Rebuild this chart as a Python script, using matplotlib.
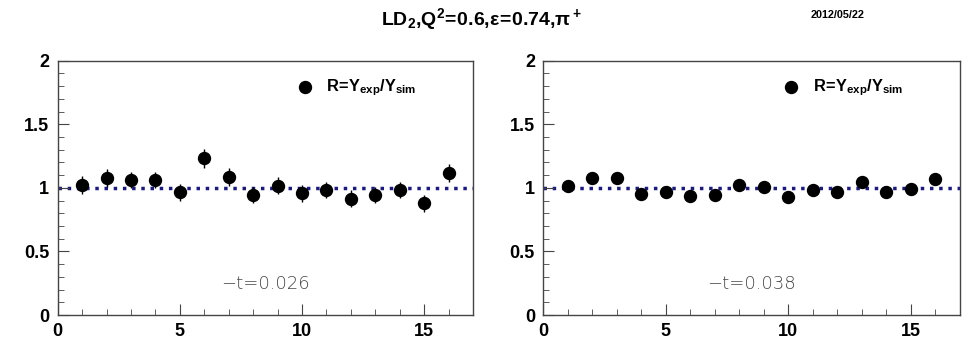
import numpy as np
import matplotlib.pyplot as plt
from matplotlib.ticker import MultipleLocator

plt.rcParams['font.family'] = ['Liberation Sans', 'DejaVu Sans']
plt.rcParams['mathtext.fontset'] = 'custom'
plt.rcParams['mathtext.rm'] = 'Liberation Sans'
plt.rcParams['mathtext.bf'] = 'Liberation Sans:bold'

# Data (bin number vs ratio)
bins = np.arange(1, 17)
ratio_t026 = [1.022, 1.075, 1.062, 1.062, 0.965, 1.232, 1.088, 0.944,
              1.017, 0.957, 0.983, 0.915, 0.944, 0.983, 0.878, 1.114]
err_t026 = [0.07, 0.07, 0.065, 0.065, 0.065, 0.075, 0.07, 0.065,
            0.065, 0.065, 0.065, 0.065, 0.065, 0.065, 0.065, 0.07]
ratio_t038 = [1.017, 1.075, 1.075, 0.949, 0.965, 0.936, 0.944, 1.022,
              1.009, 0.931, 0.983, 0.970, 1.048, 0.970, 0.991, 1.067]
err_t038 = [0.045] * 16
t_labels = ["0.026", "0.038"]

fig = plt.figure(figsize=(9.69, 3.40), dpi=100)
ax1 = fig.add_axes([0.0595, 0.0735, 0.4286, 0.748])
ax2 = fig.add_axes([0.5607, 0.0735, 0.430, 0.748])

for ax, r, e, tl in zip([ax1, ax2], [ratio_t026, ratio_t038],
                        [err_t026, err_t038], t_labels):
    ax.axhline(1.0, color='#1a1a80', linestyle=':', linewidth=2.5, zorder=1)
    ax.errorbar(bins, r, yerr=e, fmt='o', color='black', markersize=8.6,
                elinewidth=1, capsize=0, zorder=3)
    ax.set_xlim(0, 17)
    ax.set_ylim(0, 2)
    ax.xaxis.set_major_locator(MultipleLocator(5))
    ax.xaxis.set_minor_locator(MultipleLocator(1))
    ax.yaxis.set_minor_locator(MultipleLocator(0.1))
    ax.set_yticks([0, 0.5, 1, 1.5, 2])
    ax.set_yticklabels(['0', '0.5', '1', '1.5', '2'])
    ax.tick_params(which='both', direction='in', top=False, right=False,
                   colors='#444444', labelcolor='black')
    ax.tick_params(which='major', length=8, labelsize=13, pad=6)
    ax.tick_params(which='minor', length=4)
    for lab in ax.get_xticklabels() + ax.get_yticklabels():
        lab.set_fontweight('bold')
    for s in ax.spines.values():
        s.set_color('#444444')
        s.set_linewidth(1)
    # legend entry
    ax.plot([0.595], [0.895], 'o', color='black', markersize=8.6,
            transform=ax.transAxes, clip_on=False)
    ax.text(0.647, 0.895, r'$\mathbf{R\!=\!Y_{exp}/Y_{sim}}$', transform=ax.transAxes,
            fontsize=11.8, va='center', ha='left')
    ax.text(0.5, 0.122, '\u2212t=' + tl, transform=ax.transAxes,
            fontsize=13, color='#474747', ha='center', va='center',
            fontfamily='DejaVu Sans', fontweight='light')

fig.text(0.497, 0.945,
         r'$\mathbf{LD_2{,}Q^2\!=\!0.6{,}\epsilon\!=\!0.74{,}\pi^+}$',
         ha='center', va='center', fontsize=14)
fig.text(0.864, 0.955, '2012/05/22', ha='center', va='center',
         fontsize=7.8, fontweight='bold')

fig.savefig('out.png', dpi=100)
